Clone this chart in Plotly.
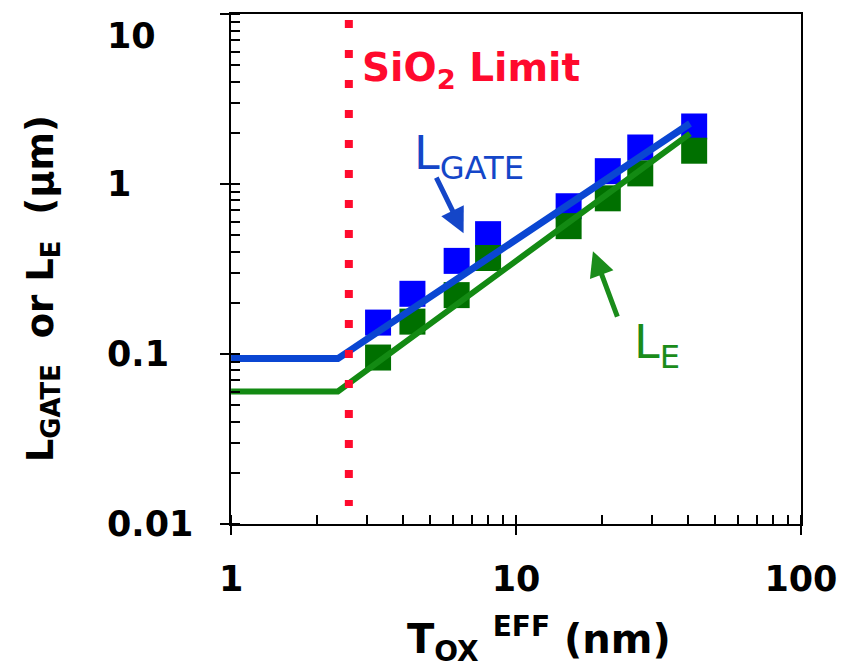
import math
import plotly.graph_objects as go

# Effective oxide thickness (nm) of the measured devices
tox_nm = [3.28, 4.33, 6.19, 7.98, 15.3, 21.0, 27.3, 42.2]
# Measured gate length and effective length (um)
l_gate_um = [0.153, 0.226, 0.353, 0.507, 0.74, 1.19, 1.64, 2.18]
l_e_um = [0.0953, 0.155, 0.222, 0.367, 0.565, 0.824, 1.155, 1.57]

# Scaling trend lines: flat below the SiO2 limit, then rising with Tox
trend_tox = [1.0, 2.37, 40.8]
trend_l_gate = [0.094, 0.094, 2.27]
trend_l_e = [0.0602, 0.0602, 1.98]

# SiO2 thickness limit (nm) and vertical extent of its marker line
sio2_limit_nm = 2.59
limit_span = [9.22, 0.01275]

x_ticks = [1, 10, 100]
x_tick_text = ["1", "10", "100"]
y_ticks = [0.01, 0.1, 1, 10]
y_tick_text = ["0.01", "0.1", "1", "10"]

FONT = "DejaVu Sans"
BLUE_MARK = "#0000ff"
GREEN_MARK = "#007000"
BLUE_LINE = "#0a46d2"
GREEN_LINE = "#138a13"
BLUE_TEXT = "#1446c8"
GREEN_TEXT = "#1a8c1a"
RED = "#ff0a2d"

X_RANGE = [-0.0003, 2.0003]
Y_RANGE = [-2.0003, 1.0003]

fig = go.Figure()

fig.add_trace(go.Scatter(
    x=tox_nm, y=l_gate_um, mode="markers",
    marker=dict(symbol="square", size=26, color=BLUE_MARK, line=dict(width=0)),
    showlegend=False))
fig.add_trace(go.Scatter(
    x=tox_nm, y=l_e_um, mode="markers",
    marker=dict(symbol="square", size=26, color=GREEN_MARK, line=dict(width=0)),
    showlegend=False))
fig.add_trace(go.Scatter(
    x=trend_tox, y=trend_l_e, mode="lines",
    line=dict(color=GREEN_LINE, width=6), showlegend=False))
fig.add_trace(go.Scatter(
    x=trend_tox, y=trend_l_gate, mode="lines",
    line=dict(color=BLUE_LINE, width=7), showlegend=False))
fig.add_trace(go.Scatter(
    x=[sio2_limit_nm, sio2_limit_nm], y=limit_span, mode="lines",
    line=dict(color=RED, width=8, dash="8px,22px"), showlegend=False))

# Companion axes that only carry the inward half of the major ticks
fig.add_trace(go.Scatter(x=[], y=[], xaxis="x2", yaxis="y2", showlegend=False))

tick_font = dict(family=FONT, size=35, color="black", weight="bold")

common = dict(type="log", showgrid=False, zeroline=False,
              showline=True, linecolor="black", linewidth=2, mirror=True,
              ticks="outside", ticklen=9, tickwidth=2, tickcolor="black",
              tickfont=tick_font,
              minor=dict(ticks="inside", ticklen=9, tickwidth=2,
                         tickcolor="black", dtick="D1", showgrid=False))

fig.update_layout(
    width=849, height=671,
    margin=dict(l=231, r=37, t=12, b=147),
    paper_bgcolor="white", plot_bgcolor="white",
    xaxis=dict(range=X_RANGE, tickvals=x_ticks, ticktext=x_tick_text,
               ticklabelstandoff=14, **common),
    yaxis=dict(range=Y_RANGE, tickvals=y_ticks, showticklabels=False, **common),
    xaxis2=dict(type="log", range=X_RANGE, overlaying="x", anchor="y2",
                tickvals=x_ticks, ticks="inside", ticklen=9, tickwidth=2,
                tickcolor="black", showticklabels=False, showgrid=False,
                zeroline=False, showline=False),
    yaxis2=dict(type="log", range=Y_RANGE, overlaying="y", anchor="x2",
                tickvals=y_ticks, ticks="inside", ticklen=9, tickwidth=2,
                tickcolor="black", showticklabels=False, showgrid=False,
                zeroline=False, showline=False),
)

# Left-aligned value labels for the vertical axis; the top one sits just
# below the frame so it stays on the page
for val, txt in zip(y_ticks, y_tick_text):
    top = val == max(y_ticks)
    fig.add_annotation(
        text=txt, xref="paper", yref="y", x=-0.2203,
        y=Y_RANGE[1] if top else math.log10(val),
        xanchor="left", yanchor="top" if top else "middle",
        showarrow=False, font=tick_font)

title_font = dict(family=FONT, size=40, color="black", weight="bold")

fig.add_annotation(
    text="T<sub>OX</sub>\u00a0<sup>EFF</sup>\u00a0(nm)",
    xref="paper", yref="paper", x=0.54, y=-0.165, xanchor="center", yanchor="top",
    showarrow=False, font=title_font)
fig.add_annotation(
    text="L<sub>GATE</sub>\u00a0\u00a0or L<sub>E</sub>\u00a0\u00a0(\u03bcm)",
    xref="paper", yref="paper", x=-0.33, y=0.462, xanchor="center", yanchor="middle",
    textangle=-90, showarrow=False,
    font=dict(family=FONT, size=37, color="black", weight="bold"))

fig.add_annotation(
    text="SiO<sub>2</sub> Limit", x=0.451, y=0.672, xref="x", yref="y",
    xanchor="left", yanchor="middle", showarrow=False,
    font=dict(family=FONT, size=39, color=RED, weight="bold"))

fig.add_annotation(
    text="L<sub>GATE</sub>", x=0.8365, y=0.162, xref="x", yref="y",
    xanchor="center", yanchor="middle", showarrow=False,
    font=dict(family=FONT, size=46, color=BLUE_TEXT))
fig.add_annotation(
    text="L<sub>E</sub>", x=1.494, y=-0.951, xref="x", yref="y",
    xanchor="center", yanchor="middle", showarrow=False,
    font=dict(family=FONT, size=46, color=GREEN_TEXT))

# Pointer arrows from the labels to their curves
fig.add_annotation(
    x=0.816, y=-0.289, xref="x", yref="y", ax=-28, ay=-57, text="",
    showarrow=True, arrowhead=2, arrowsize=1, arrowwidth=5, arrowcolor=BLUE_TEXT)
fig.add_annotation(
    x=1.270, y=-0.395, xref="x", yref="y", ax=25, ay=67, text="",
    showarrow=True, arrowhead=2, arrowsize=1, arrowwidth=5, arrowcolor=GREEN_TEXT)

fig.write_html("out.html")
